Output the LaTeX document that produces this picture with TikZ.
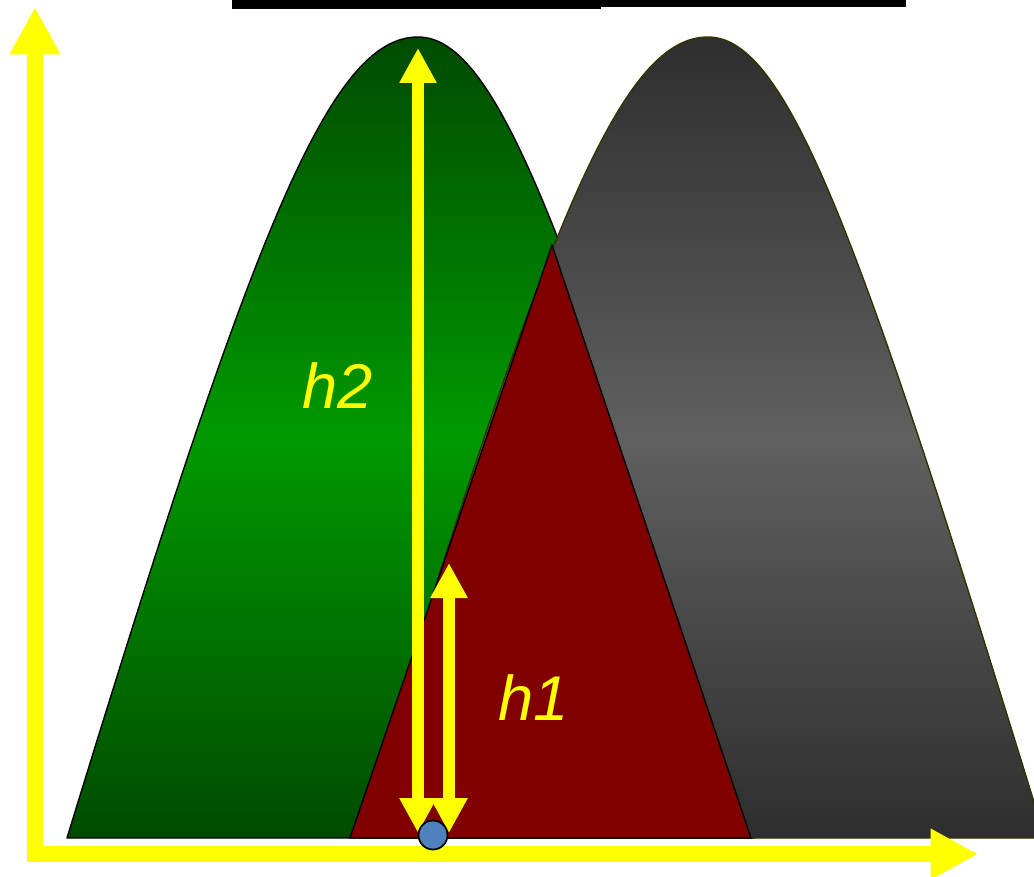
\documentclass[tikz,border=0pt]{standalone}
\usepackage{fontspec}
\setmainfont{Liberation Sans}
\usetikzlibrary{arrows.meta}
\definecolor{HillGreen}{HTML}{009900}
\definecolor{HillGreenDark}{HTML}{004B00}
\definecolor{HillGrey}{HTML}{606060}
\definecolor{HillGreyDark}{HTML}{2E2E2E}
\definecolor{HillEdge}{HTML}{333300}
\definecolor{PeakRed}{HTML}{800000}
\definecolor{DotBlue}{HTML}{4F81BD}
\definecolor{MarkYellow}{HTML}{FFFF00}

\begin{document}
\begin{tikzpicture}[
  x=0.02cm, y=-0.02cm,
  hill/.style={line width=0.8pt, line join=round},
  axis/.style={draw=MarkYellow, line width=0.31cm, line join=miter,
    {Triangle[length=0.95cm, width=0.95cm]}-{Triangle[length=0.95cm, width=0.95cm]}},
  measure/.style={draw=MarkYellow, line width=0.24cm,
    {Triangle[length=0.7cm, width=0.7cm]}-{Triangle[length=0.7cm, width=0.7cm]}},
  tag/.style={text=MarkYellow, font=\itshape\fontsize{36}{40}\selectfont, inner sep=0pt, anchor=base}
]
\useasboundingbox (0,0) rectangle (1034,876);
\clip (0,0) rectangle (1034,876);

% bars at the top edge
\fill[black] (232,0) rectangle (601,9);
\fill[black] (601,0) rectangle (906,7);

% the two hills and the peak
\draw[hill, draw=black, top color=HillGreenDark, bottom color=HillGreenDark, middle color=HillGreen]
  (67,838) .. controls (251,238) and (328,37) .. (418,37)
  .. controls (498,37) and (571,238) .. (755,838) -- cycle;
\draw[hill, draw=HillEdge, top color=HillGreyDark, bottom color=HillGreyDark, middle color=HillGrey]
  (357,838) .. controls (541,238) and (618,37) .. (708,37)
  .. controls (788,37) and (861,238) .. (1045,838) -- cycle;
\draw[hill, draw=black, fill=PeakRed] (350,838) -- (552,245) -- (751,838) -- cycle;

% axes
\coordinate (yTip) at (35,7);
\coordinate (xTip) at (978,854);
\draw[axis] (yTip) |- (xTip);

% heights
\coordinate (hTwoTop) at (418,48);
\coordinate (hTwoFoot) at (418,833);
\coordinate (hOneTop) at (449,563);
\coordinate (hOneFoot) at (449,833);
\draw[measure] (hTwoTop) -- (hTwoFoot);
\draw[measure] (hOneTop) -- (hOneFoot);

\node[circle, fill=DotBlue, draw=black, line width=1pt, minimum size=0.58cm, inner sep=0pt] (foot) at (433,835) {};

\node[tag] (hTwo) at (338,408) {h2};
\node[tag] (hOne) at (534,720) {h1};
\end{tikzpicture}
\end{document}
